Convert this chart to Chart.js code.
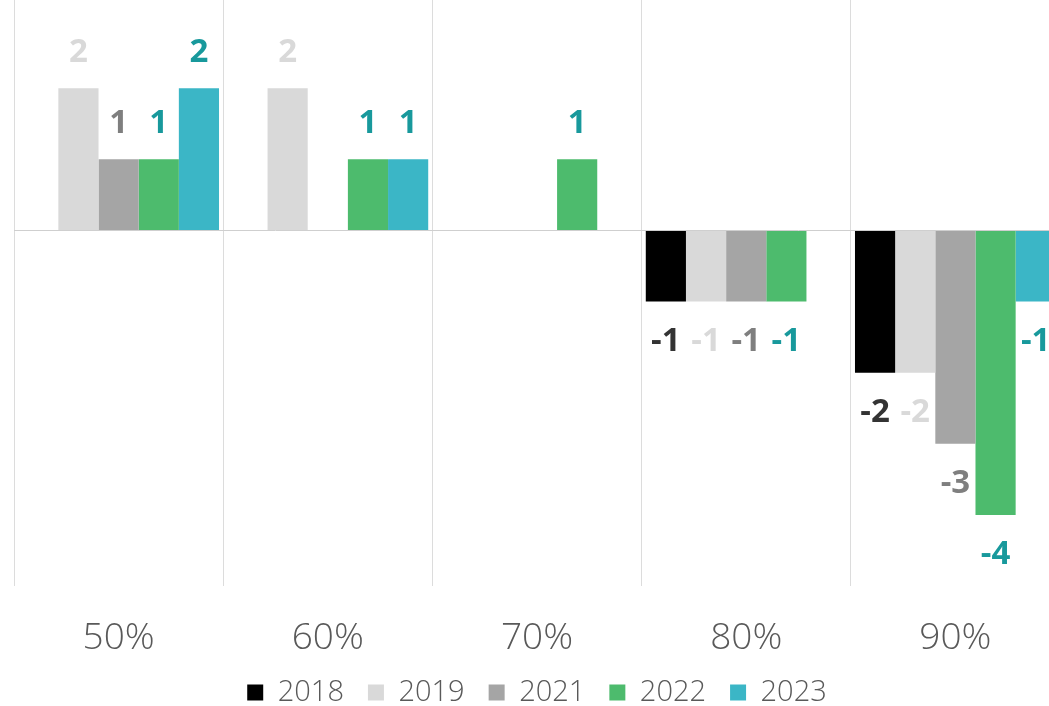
<!DOCTYPE html>
<html>
<head>
<meta charset="utf-8">
<script src="https://cdn.jsdelivr.net/npm/chart.js@4.4.0/dist/chart.umd.min.js"></script>
<style>
  html, body { margin: 0; padding: 0; background: #fff; overflow: hidden; }
  #wrap { position: relative; width: 1075px; height: 717px; }
</style>
</head>
<body>
<div id="wrap"><canvas id="grafico"></canvas></div>
<script>
const categorias = ["50%", "60%", "70%", "80%", "90%"];
const anios = ["2018", "2019", "2021", "2022", "2023"];
const valores2018 = [null, null, null, -1, -2];
const valores2019 = [2, 2, null, -1, -2];
const valores2021 = [1, null, null, -1, -3];
const valores2022 = [1, 1, 1, -1, -4];
const valores2023 = [2, 1, null, null, -1];

const coloresBarra = ["#000000", "#d9d9d9", "#a5a5a5", "#4dbb6d", "#3bb6c6"];
const coloresTexto = ["#333333", "#d9d9d9", "#7f7f7f", "#18999c", "#18999c"];
const series = [valores2018, valores2019, valores2021, valores2022, valores2023];

// etiquetas de valor encima / debajo de cada barra
const etiquetas = {
  id: "etiquetas",
  afterDatasetsDraw(chart) {
    const ctx = chart.ctx;
    ctx.save();
    ctx.font = "bold 33px 'Open Sans'";
    ctx.textAlign = "center";
    ctx.textBaseline = "middle";
    chart.data.datasets.forEach((ds, i) => {
      const meta = chart.getDatasetMeta(i);
      meta.data.forEach((bar, j) => {
        const v = ds.data[j];
        if (v === null || v === undefined) return;
        ctx.fillStyle = coloresTexto[i];
        const y = v >= 0 ? bar.y - 36 : bar.y + 40;
        ctx.fillText(String(v), bar.x, y);
      });
    });
    ctx.restore();
  }
};

const ctx = document.getElementById("grafico").getContext("2d");
new Chart(ctx, {
  type: "bar",
  data: {
    labels: categorias,
    datasets: anios.map((a, i) => ({
      label: a,
      data: series[i],
      backgroundColor: coloresBarra[i],
      categoryPercentage: 0.96,
      barPercentage: 1
    }))
  },
  options: {
    responsive: true,
    maintainAspectRatio: false,
    animation: false,
    layout: { padding: { left: 14, right: 15, top: 0, bottom: 0 } },
    plugins: {
      tooltip: { enabled: false },
      legend: {
        position: "bottom",
        labels: {
          boxWidth: 16,
          boxHeight: 16,
          padding: 24,
          color: "#595959",
          font: { family: "'Open Sans'", size: 29, weight: 300 }
        }
      }
    },
    scales: {
      x: {
        border: { display: false },
        afterFit(scale) { scale.height = 68; },
        grid: { color: "#dcdcdc", drawTicks: false, offset: true },
        ticks: { color: "#595959", padding: 30, font: { family: "'Open Sans'", size: 37, weight: 300 } }
      },
      y: {
        min: -5,
        max: 3.24,
        border: { display: false },
        afterFit(scale) { scale.width = 0; },
        ticks: { display: false, stepSize: 1 },
        grid: {
          drawTicks: false,
          color: c => (c.tick && c.tick.value === 0 ? "#cfcfcf" : "rgba(0,0,0,0)")
        }
      }
    }
  },
  plugins: [etiquetas]
});
</script>
</body>
</html>
